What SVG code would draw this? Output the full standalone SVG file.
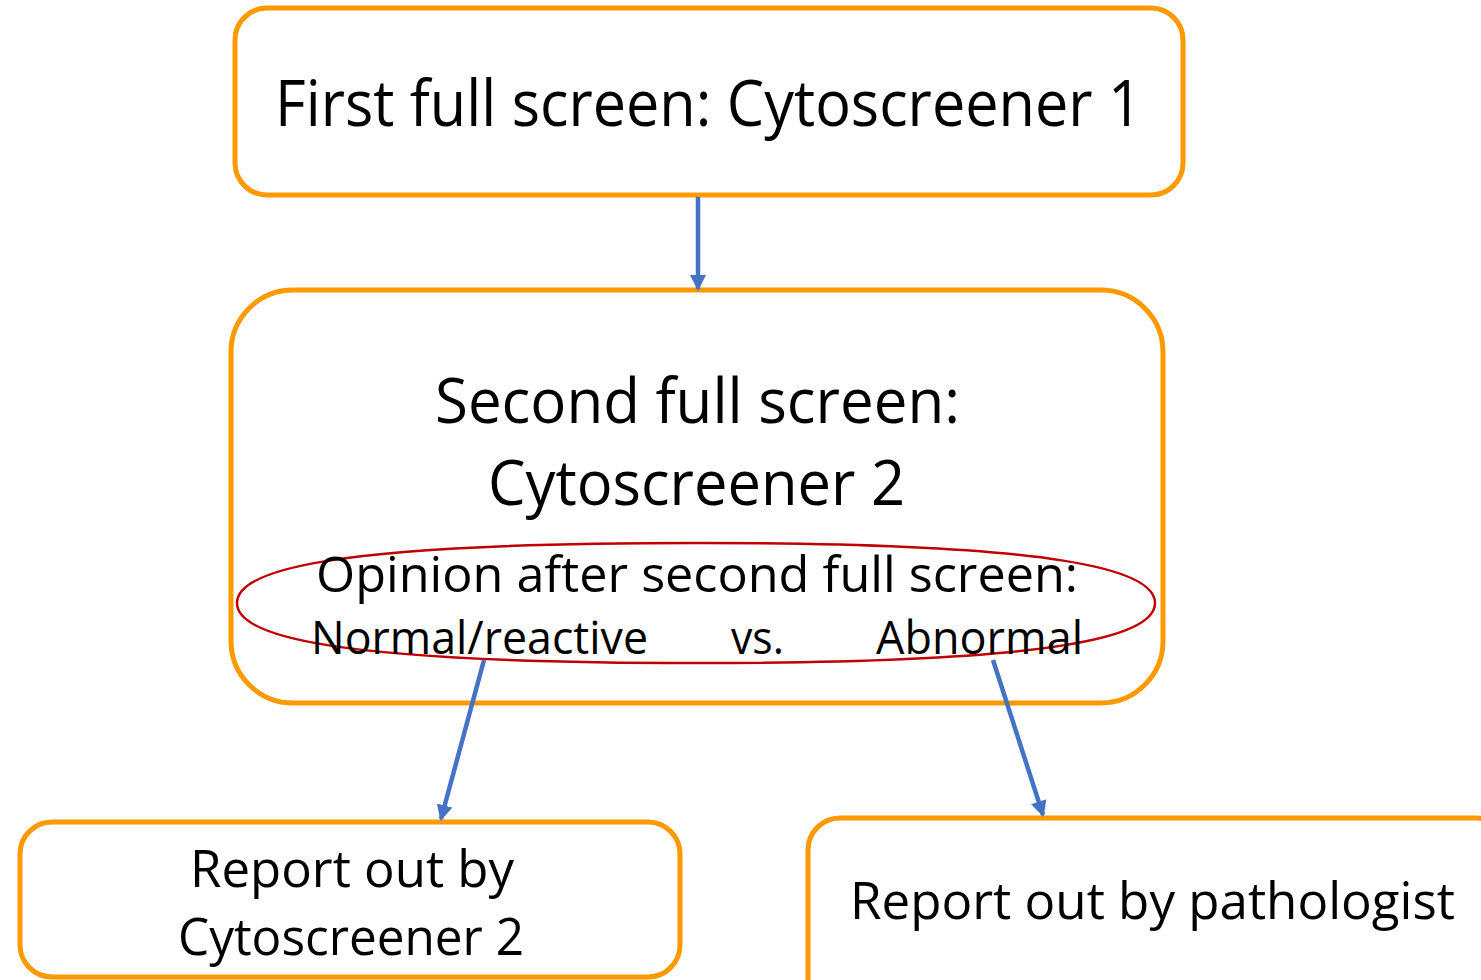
<svg xmlns="http://www.w3.org/2000/svg" width="1481" height="980" viewBox="0 0 1481 980">
<defs>
<style>
.box{fill:#fff;stroke:#FF9900;stroke-width:5}
.t{font-family:"Open Sans","Noto Sans","Liberation Sans",sans-serif;fill:#000}
.c{stroke:#4472C4;stroke-width:4.5;fill:none}
</style>
<marker id="ah" markerUnits="userSpaceOnUse" markerWidth="18" markerHeight="18" refX="14" refY="8" orient="auto">
<path d="M0,0 L16,8 L0,16 Z" fill="#4472C4"/>
</marker>
</defs>
<rect width="1481" height="980" fill="#fff"/>
<g id="node-first">
<rect class="box" x="235" y="8" width="948" height="187" rx="32"/>
<text class="t" x="275" y="126" font-size="64" textLength="867" lengthAdjust="spacingAndGlyphs">First full screen: Cytoscreener 1</text>
</g>
<g id="node-second">
<rect class="box" x="231" y="290" width="932" height="413" rx="62"/>
<text class="t" x="435" y="423" font-size="62" textLength="525" lengthAdjust="spacingAndGlyphs">Second full screen:</text>
<text class="t" x="488" y="505" font-size="62" textLength="417" lengthAdjust="spacingAndGlyphs">Cytoscreener 2</text>
</g>
<g id="node-opinion">
<path d="M237,603 C237,570 329,543 696,543 C1063,543 1155,570 1155,603 C1155,636 1063,663 696,663 C329,663 237,636 237,603 Z" fill="none" stroke="#C00000" stroke-width="2.5"/>
<text class="t" x="316" y="592" font-size="50" textLength="762" lengthAdjust="spacingAndGlyphs">Opinion after second full screen:</text>
<text class="t" x="311" y="654" font-size="46" textLength="337" lengthAdjust="spacingAndGlyphs">Normal/reactive</text>
<text class="t" x="731" y="654" font-size="46" textLength="53" lengthAdjust="spacingAndGlyphs">vs.</text>
<text class="t" x="876" y="654" font-size="46" textLength="207" lengthAdjust="spacingAndGlyphs">Abnormal</text>
</g>
<g id="node-report-cyto">
<rect class="box" x="20" y="822" width="660" height="155" rx="32"/>
<text class="t" x="190" y="887" font-size="52" textLength="324" lengthAdjust="spacingAndGlyphs">Report out by</text>
<text class="t" x="178" y="955" font-size="52" textLength="346" lengthAdjust="spacingAndGlyphs">Cytoscreener 2</text>
</g>
<g id="node-report-path">
<rect class="box" x="808" y="818" width="700" height="200" rx="32"/>
<text class="t" x="850" y="919" font-size="52" textLength="605" lengthAdjust="spacingAndGlyphs">Report out by pathologist</text>
</g>
<g id="connectors">
<line class="c" x1="698" y1="197" x2="698" y2="289" marker-end="url(#ah)"/>
<line class="c" x1="484" y1="660" x2="441" y2="819" marker-end="url(#ah)"/>
<line class="c" x1="993" y1="660" x2="1043" y2="815" marker-end="url(#ah)"/>
</g>
</svg>
